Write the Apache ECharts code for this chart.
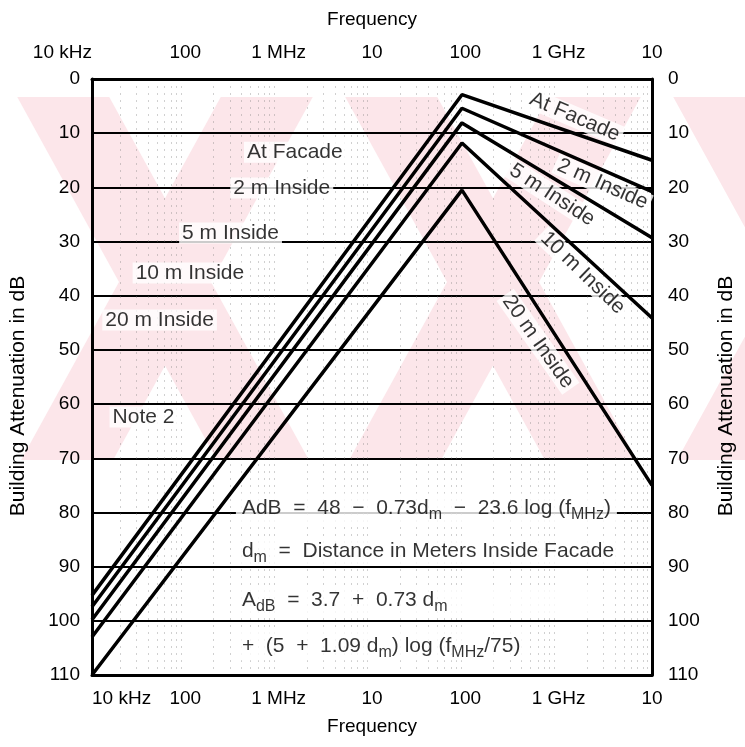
<!DOCTYPE html>
<html>
<head>
<meta charset="utf-8">
<script src="https://cdn.jsdelivr.net/npm/echarts@6/dist/echarts.min.js"></script>
<style>
html, body { margin: 0; padding: 0; background: #fff; }
#chart { width: 745px; height: 747px; }
</style>
</head>
<body>
<div id="chart"></div>
<script>
// 数据 (frequency in MHz, attenuation in dB)
var tickLabels = ['10 kHz', '100', '1 MHz', '10', '100', '1 GHz', '10']
var seriesNames = ['At Facade', '2 m Inside', '5 m Inside', '10 m Inside', '20 m Inside']
var lineFreq = [0.01, 92, 10000]
var atFacade = [95.3, 2.9, 15]
var inside2 = [97.4, 5.4, 20.8]
var inside5 = [99.8, 8.1, 29.3]
var inside10 = [103, 11.8, 44.1]
var inside20 = [110, 20.5, 75]

// annotation text, anchored in data coordinates
var noteText = ['At Facade', '2 m Inside', '5 m Inside', '10 m Inside', '20 m Inside', 'Note 2',
    'At Facade', '2 m Inside', '5 m Inside', '10 m Inside', '20 m Inside']
var noteFreq = [1.49, 1.08, 0.305, 0.112, 0.053, 0.0356, 1490, 2950, 850, 1810, 600]
var noteDb = [13.5, 20.1, 28.4, 35.8, 44.5, 62.4, 7.0, 19.4, 21.4, 35.8, 48.5]
var noteRot = [0, 0, 0, 0, 0, 0, -23, -24, -33, -44, -55]

var formulaText = [
    '{t|AdB  =  48  −  0.73d}{s|m}{t|  −  23.6 log (f}{s|MHz}{t|)}',
    '{t|d}{s|m}{t|  =  Distance in Meters Inside Facade}',
    '{t|A}{s|dB}{t|  =  3.7  +  0.73 d}{s|m}',
    '{t|+  (5  +  1.09 d}{s|m}{t|) log (f}{s|MHz}{t|/75)}'
]
var formulaFreq = [0.344, 0.344, 0.344, 0.344]
var formulaDb = [79.2, 87.2, 96.2, 104.6]

var font = 'Liberation Sans'
var ink = '#000'

var lines = [atFacade, inside2, inside5, inside10, inside20]

function freqLabel(v) {
    var i = Math.round(Math.log10(v)) + 2
    return tickLabels[i] || ''
}

// watermark: pale pink X bands behind the chart (decoration)
function band(cx, dir) {
    var s = 0.55, h = 46, y0 = 97, y1 = 460, yc = 282
    var c0 = cx + dir * s * (y0 - yc), c1 = cx + dir * s * (y1 - yc)
    return [[c0 - h, y0], [c0 + h, y0], [c1 + h, y1], [c1 - h, y1]]
}
var marks = []
;[-163, 165, 493, 821].forEach(function (cx) {
    marks.push(band(cx, 1), band(cx, -1))
})

var axisLineStyle = { color: '#000', width: 3 }

var option = {
    animation: false,
    backgroundColor: '#fff',
    textStyle: { fontFamily: font },
    grid: { left: 92, right: 87, top: 79, bottom: 72 },
    xAxis: [0, 1].map(function (k) {
        return {
            type: 'log',
            logBase: 10,
            min: 0.01,
            max: 10000,
            position: k ? 'top' : 'bottom',
            name: 'Frequency',
            nameLocation: 'middle',
            nameGap: k ? 50 : 42,
            nameTextStyle: { fontSize: 19, color: ink, fontFamily: font },
            axisLine: { show: true, onZero: false, lineStyle: axisLineStyle },
            axisTick: { show: false },
            axisLabel: {
                formatter: freqLabel,
                fontSize: 19,
                color: ink,
                fontFamily: font,
                margin: k ? 17 : 14,
                alignMinLabel: k ? 'right' : 'left',
                alignMaxLabel: 'center'
            },
            splitLine: { show: false },
            minorTick: { show: false, splitNumber: 9 },
            minorSplitLine: {
                show: k === 0,
                lineStyle: { color: '#777', width: 1, type: [2, 5], opacity: 0.35 }
            }
        }
    }),
    yAxis: [0, 1].map(function (k) {
        return {
            type: 'value',
            inverse: true,
            min: 0,
            max: 110,
            interval: 10,
            position: k ? 'right' : 'left',
            name: 'Building Attenuation in dB',
            nameLocation: 'middle',
            nameRotate: 90,
            nameGap: k ? 64 : 63,
            nameTextStyle: { fontSize: 21, color: ink, fontFamily: font, padding: [0, 38, 0, 0] },
            axisLine: { show: true, onZero: false, lineStyle: axisLineStyle },
            axisTick: { show: false },
            axisLabel: { fontSize: 19, color: ink, fontFamily: font, margin: k ? 16 : 12 },
            splitLine: { show: k === 0, lineStyle: { color: '#000', width: 2 } }
        }
    }),
    series: lines.map(function (arr, i) {
        return {
            name: seriesNames[i],
            type: 'line',
            z: 4,
            symbol: 'none',
            lineStyle: { color: '#000', width: 3.5 },
            data: lineFreq.map(function (f, j) { return [f, arr[j]] })
        }
    }).concat([{
        type: 'scatter',
        z: 3,
        symbolSize: 1,
        itemStyle: { color: 'rgba(0,0,0,0)' },
        silent: true,
        data: noteText.map(function (t, i) {
            return {
                value: [noteFreq[i], noteDb[i]],
                label: {
                    show: true,
                    position: 'inside',
                    formatter: t,
                    rotate: noteRot[i],
                    fontSize: 21,
                    color: ink,
                    fontFamily: font,
                    backgroundColor: '#fff',
                    padding: [0, 3]
                }
            }
        })
    }, {
        type: 'scatter',
        z: 3,
        symbolSize: 1,
        itemStyle: { color: 'rgba(0,0,0,0)' },
        silent: true,
        data: formulaText.map(function (t, i) {
            return {
                value: [formulaFreq[i], formulaDb[i]],
                label: {
                    show: true,
                    position: 'right',
                    distance: 0,
                    formatter: t,
                    backgroundColor: '#fff',
                    padding: i === 2 ? [0, 150, 0, 6] : [0, 6],
                    rich: {
                        t: { fontSize: 21, color: ink, fontFamily: font },
                        s: { fontSize: 16, color: ink, fontFamily: font, padding: [13, 0, 0, 0] }
                    }
                }
            }
        })
    }]),
    graphic: marks.map(function (pts) {
        return {
            type: 'polygon',
            silent: true,
            z: -10,
            shape: { points: pts },
            style: { fill: '#fce6ea' }
        }
    })
}

var chart = echarts.init(document.getElementById('chart'))
chart.setOption(option)
</script>
</body>
</html>
